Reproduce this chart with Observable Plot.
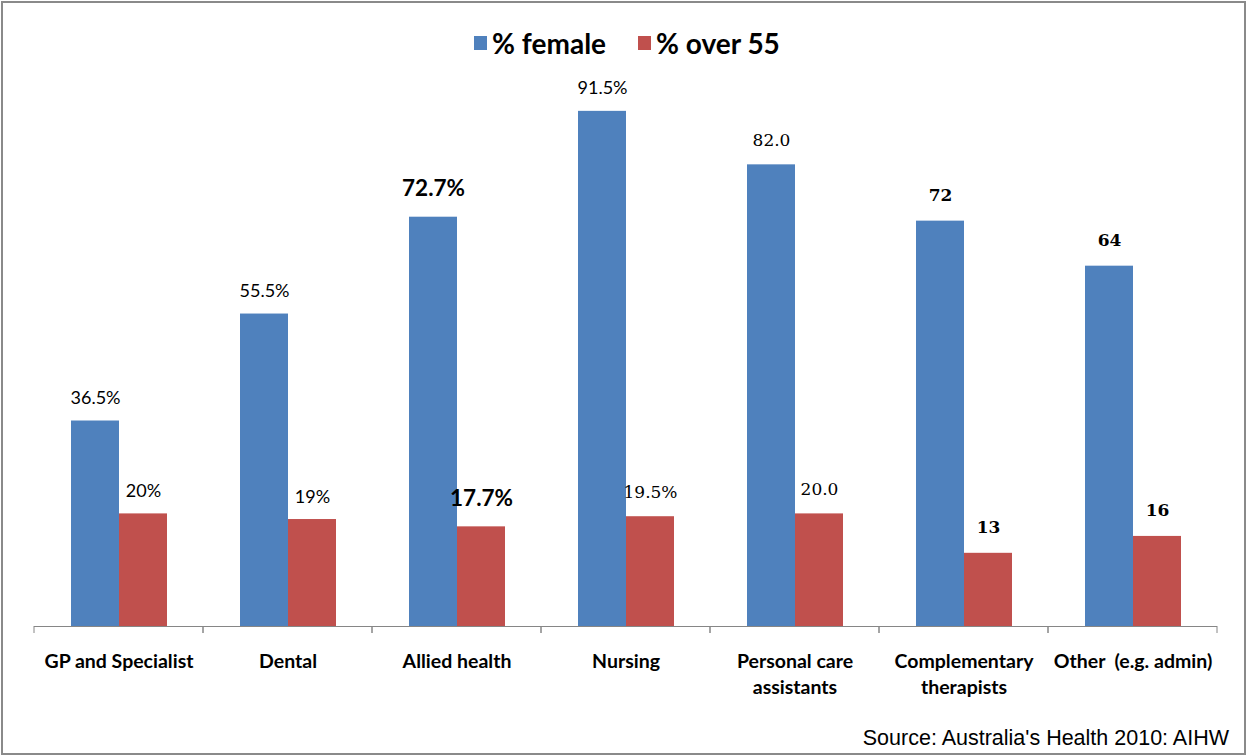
<!DOCTYPE html>
<html>
<head>
<meta charset="utf-8">
<script src="https://cdn.jsdelivr.net/npm/d3@7"></script>
<script src="https://cdn.jsdelivr.net/npm/@observablehq/plot@0.6"></script>
<style>
  html, body { margin: 0; padding: 0; background: #fff; }
  #wrap { position: relative; width: 1247px; height: 756px; overflow: hidden; background: #fff; }
  #chart { position: absolute; left: 0; top: 0; }
  #legend { position: absolute; left: 0; top: 22px; width: 1254px; text-align: center;
            font-family: Lato, "Open Sans", sans-serif; font-weight: bold; font-size: 28px; color: #000; }
  #legend .item { display: inline-flex; align-items: center; margin: 0 16px; }
  #legend .sw { display: inline-block; width: 13px; height: 14px; margin-right: 5px; }
  #source { position: absolute; right: 18px; top: 726px; font-family: "Liberation Sans", Arial, sans-serif;
            font-size: 21.5px; color: #000; }
  #border { position: absolute; left: 1px; top: 1px; width: 1245px; height: 754px; box-sizing: border-box;
            border: 2px solid #8a8a8a; pointer-events: none; }
</style>
</head>
<body>
<div id="wrap">
  <div id="chart"></div>
  <div id="legend"></div>
  <div id="source">Source: Australia's Health 2010: AIHW</div>
  <div id="border"></div>
</div>
<script>
// ---- data ----
const categories = ["GP and Specialist", "Dental", "Allied health", "Nursing",
  "Personal care\nassistants", "Complementary\ntherapists", "Other  (e.g. admin)"];
const series = ["% female", "% over 55"];
const femaleValues = [36.5, 55.5, 72.7, 91.5, 82.0, 72, 64];
const over55Values = [20, 19, 17.7, 19.5, 20.0, 13, 16];
const femaleLabels = ["36.5%", "55.5%", "72.7%", "91.5%", "82.0", "72", "64"];
const over55Labels = ["20%", "19%", "17.7%", "19.5%", "20.0", "13", "16"];
const colors = ["#4F81BD", "#C0504D"];

// table built from arrays
const rows = [];
categories.forEach((c, i) => {
  rows.push({category: c, series: series[0], value: femaleValues[i], label: femaleLabels[i], i});
  rows.push({category: c, series: series[1], value: over55Values[i], label: over55Labels[i], i});
});

// label style groups (mirrors the mixed formatting of the original)
const styleOf = d => {
  if (d.category === "Allied health") return "sansBold";
  if (d.category === "Nursing") return d.series === series[0] ? "sans" : "serif";
  if (d.category.startsWith("Personal")) return "serif";
  if (d.category.startsWith("Complementary") || d.category.startsWith("Other")) return "serifBold";
  return "sans";
};

// boundary tick marks below the baseline (per facet, at band edges)
function boundaryTicks(index, scales) {
  const [a, b] = scales.x.range();
  const y0 = scales.y(0);
  const g = d3.create("svg:g").attr("stroke", "#868686").attr("stroke-width", 1);
  for (const x of [a, b]) {
    g.append("line").attr("x1", x).attr("x2", x).attr("y1", y0).attr("y2", y0 + 7);
  }
  return g.node();
}

const labelMark = (group, opts) => Plot.text(rows.filter(d => styleOf(d) === group), {
  fx: "category", x: "series", y: "value", text: "label",
  lineAnchor: "bottom", fill: "#000", ...opts
});

const chart = Plot.plot({
  width: 1247,
  height: 756,
  marginLeft: 32,
  marginRight: 29,
  marginTop: 63,
  marginBottom: 130,
  style: {fontFamily: "Lato, 'Open Sans', sans-serif", fontSize: "17px", background: "transparent", overflow: "visible"},
  fx: {domain: categories, padding: 0, label: null, axis: null},
  x: {domain: series, paddingInner: 0, paddingOuter: 0.73, axis: null},
  y: {domain: [0, 100], axis: null},
  color: {domain: series, range: colors},
  marks: [
    Plot.barY(rows, {fx: "category", x: "series", y: "value", fill: "series"}),
    Plot.ruleY([0], {stroke: "#868686", strokeWidth: 1}),
    boundaryTicks,
    Plot.axisFx({anchor: "bottom", tickSize: 0, tickPadding: 23, fontWeight: "bold", fontSize: 19.5,
                 lineHeight: 1.33, label: null, fill: "#000"}),
    labelMark("sans", {fontSize: 18, dy: -17}),
    labelMark("sansBold", {fontSize: 22.5, fontWeight: "bold", dy: -21}),
    labelMark("serif", {fontSize: 17, fontFamily: "'DejaVu Serif', serif", dy: -19}),
    labelMark("serifBold", {fontSize: 17, fontWeight: "bold", fontFamily: "'DejaVu Serif', serif", dy: -20})
  ]
});
document.getElementById("chart").appendChild(chart);

// legend
const legend = document.getElementById("legend");
series.forEach((s, i) => {
  const item = document.createElement("span");
  item.className = "item";
  const sw = document.createElement("span");
  sw.className = "sw";
  sw.style.background = colors[i];
  item.appendChild(sw);
  item.appendChild(document.createTextNode(s));
  legend.appendChild(item);
});
</script>
</body>
</html>
